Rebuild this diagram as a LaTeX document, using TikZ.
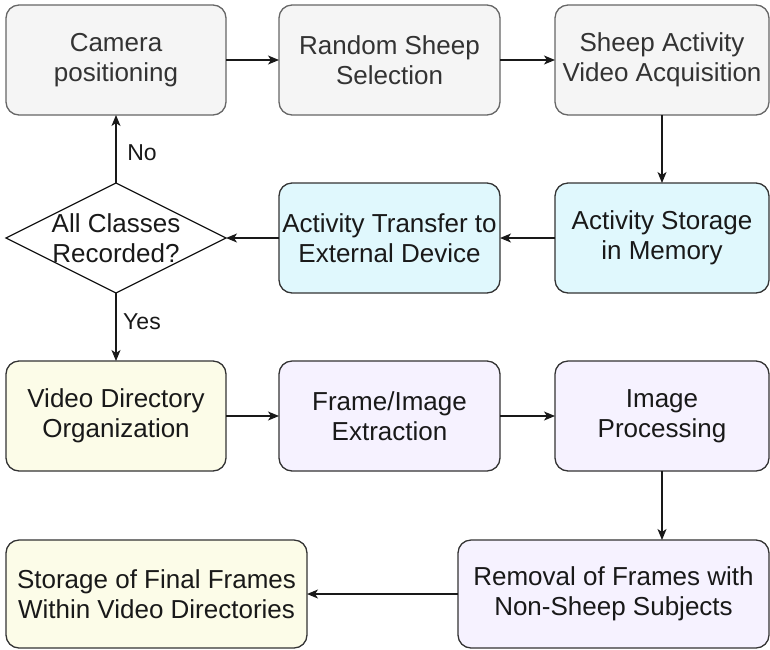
\documentclass[tikz,border=0pt]{standalone}
\usepackage{fontspec}
\setmainfont{Liberation Sans}
\usetikzlibrary{shapes.geometric,arrows.meta}
\definecolor{grayfill}{HTML}{F5F5F5}
\definecolor{grayline}{HTML}{666666}
\definecolor{graytext}{HTML}{333333}
\definecolor{cyanfill}{HTML}{E0F8FD}
\definecolor{yelfill}{HTML}{FCFCE8}
\definecolor{purfill}{HTML}{F6F2FF}
\definecolor{darkline}{HTML}{333333}
\tikzset{
  box/.style={draw=darkline, line width=1.3pt, rounded corners=13pt, align=center,
    inner sep=0pt, outer sep=0pt, font=\fontsize{26}{30}\selectfont, text=black!90},
  graybox/.style={box, fill=grayfill, draw=grayline, text=graytext},
  cyanbox/.style={box, fill=cyanfill},
  yelbox/.style={box, fill=yelfill},
  purbox/.style={box, fill=purfill},
  flow/.style={line width=1.3pt, draw=black!90, -{Stealth[length=11pt,width=9pt,inset=3pt]}},
  lbl/.style={font=\fontsize{23}{27}\selectfont, text=black!90},
  decision/.style={diamond, draw=black!90, line width=1.3pt, fill=white, aspect=2,
    minimum width=220pt, minimum height=110pt, inner sep=0pt, outer sep=0pt}
}
\begin{document}
\begin{tikzpicture}[x=1pt,y=-1pt]
\useasboundingbox (0,0) rectangle (770,649);
% row 1
\node[graybox, minimum width=220pt, minimum height=110pt] (cam) at (116,60) {Camera\\positioning};
\node[graybox, minimum width=221pt, minimum height=110pt] (rand) at (389.5,60) {Random Sheep\\Selection};
\node[graybox, minimum width=214pt, minimum height=110pt] (sheep) at (662,60) {Sheep Activity\\Video Acquisition};
% row 2
\node[decision] (dia) at (116,238) {};
\node[align=center, font=\fontsize{26}{30}\selectfont, text=black!90] (diatext) at (dia.center) {All Classes\\Recorded?};
\node[cyanbox, minimum width=221pt, minimum height=110pt] (transfer) at (389.5,238) {Activity Transfer to\\External Device};
\node[cyanbox, minimum width=214pt, minimum height=110pt] (storage) at (662,238) {Activity Storage\\in Memory};
% row 3
\node[yelbox, minimum width=220pt, minimum height=110pt] (vdir) at (116,416) {Video Directory\\Organization};
\node[purbox, minimum width=221pt, minimum height=110pt] (frame) at (389.5,416) {Frame/Image\\Extraction};
\node[purbox, minimum width=214pt, minimum height=110pt] (imgp) at (662,416) {Image\\Processing};
% row 4
\node[yelbox, minimum width=301pt, minimum height=108pt] (final) at (156.5,594) {Storage of Final Frames\\Within Video Directories};
\node[purbox, minimum width=311pt, minimum height=108pt] (removal) at (613.5,594) {Removal of Frames with\\Non-Sheep Subjects};
% connectors
\draw[flow] (cam) -- (rand);
\draw[flow] (rand) -- (sheep);
\draw[flow] (sheep) -- (storage);
\draw[flow] (storage) -- (transfer);
\draw[flow] (transfer) -- (dia.east);
\draw[flow] (dia.north) -- (cam.south);
\draw[flow] (dia.south) -- (vdir.north);
\draw[flow] (vdir) -- (frame);
\draw[flow] (frame) -- (imgp);
\draw[flow] (imgp.south) -- (imgp.south |- removal.north);
\draw[flow] (removal) -- (final);
% labels
\node[lbl] (nolbl) at (142,153) {No};
\node[lbl] (yeslbl) at (142,322) {Yes};
\end{tikzpicture}
\end{document}
